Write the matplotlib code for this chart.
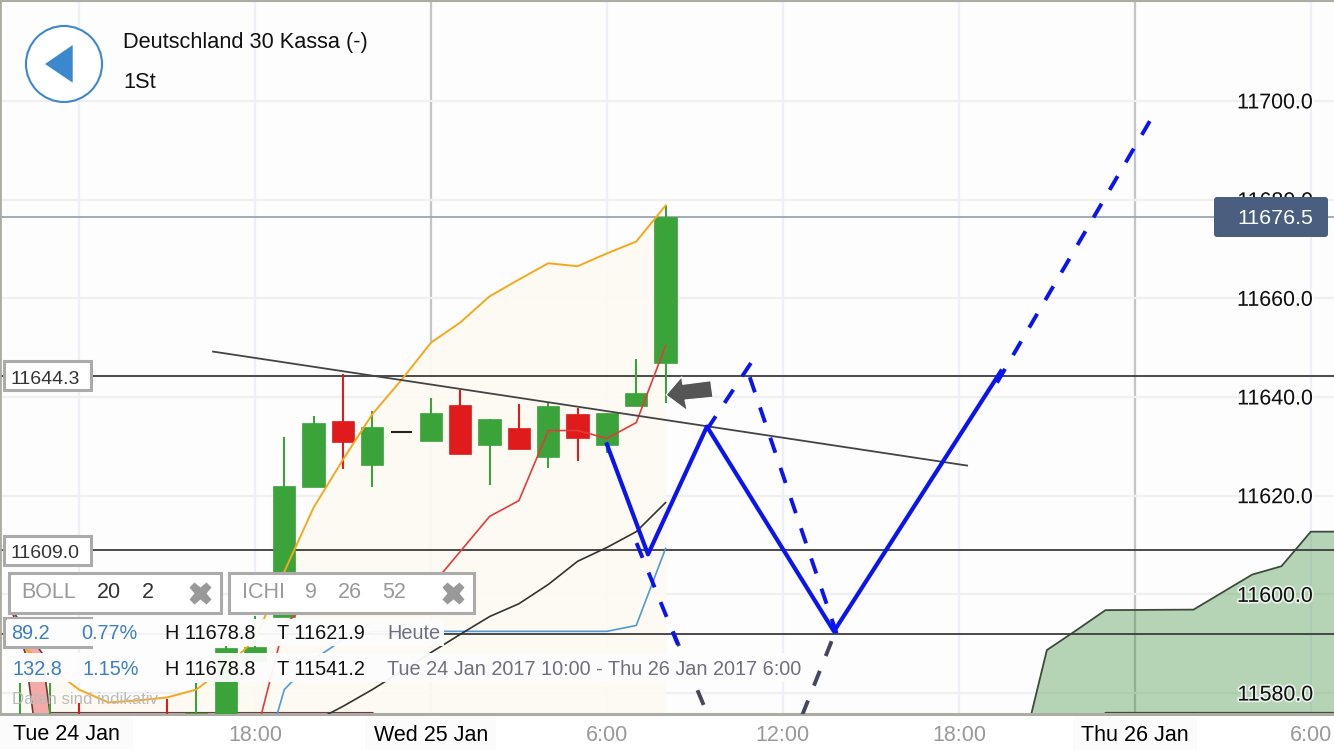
import matplotlib
matplotlib.use("Agg")
import matplotlib.pyplot as plt
import matplotlib.patheffects as pe
from matplotlib.patches import Rectangle, Circle, Polygon, FancyBboxPatch

plt.rcParams['font.family'] = ['Liberation Sans', 'DejaVu Sans']

# x values are hours counted from Tue 24 Jan 00:00
candle_hours = [10, 11, 12, 15, 16, 17, 18, 19, 20, 21, 22, 23, 24, 25, 26, 27, 28, 29, 30, 31, 32]
opens = [11570, 11570, 11572, 11572, 11570, 11570, 11586.4, 11595.5, 11621.7, 11635.1, 11626.2, 11632.9,
         11631.0, 11638.4, 11630.2, 11633.8, 11627.8, 11636.5, 11630.2, 11638.1, 11646.9]
highs = [11582, 11582, 11578, 11578.7, 11582.1, 11589.8, 11595.7, 11631.9, 11636.1, 11644.6, 11637.1, 11632.9,
         11639.8, 11641.4, 11635.5, 11638.6, 11638.8, 11637.8, 11636.8, 11647.6, 11679.0]
lows = [11570, 11570, 11570, 11570, 11570, 11570, 11586.4, 11595.5, 11621.7, 11625.4, 11621.7, 11632.9,
        11631.0, 11628.5, 11622.1, 11629.5, 11625.6, 11627.0, 11628.7, 11638.1, 11638.8]
closes = [11572, 11572, 11570, 11570, 11576, 11589.2, 11589.4, 11621.9, 11634.8, 11630.8, 11634.0, 11632.9,
          11636.8, 11628.5, 11635.5, 11629.5, 11638.1, 11631.7, 11636.8, 11640.9, 11676.5]

boll_hours = list(range(10, 33))
boll_upper = [11589.8, 11585.2, 11580.7, 11578.1, 11578.5, 11579.1, 11580.7, 11585.2, 11590.8, 11604.6, 11617.6,
              11627.3, 11636.5, 11643.5, 11651.0, 11655.1, 11660.4, 11663.8, 11667.1, 11666.5, 11669.1, 11671.5,
              11678.8]

ichi_hours = list(range(18, 33))
tenkan = [11570.6, 11593.9, 11599, 11599, 11599, 11599, 11601.6, 11608.7, 11615.8, 11619, 11633.2, 11633.2,
          11631.6, 11634.8, 11650.4]
kijun = [11560.4, 11580.7, 11586.8, 11590.8, 11592.5, 11592.5, 11592.5, 11592.5, 11592.5, 11592.5, 11592.5,
         11592.5, 11592.5, 11593.7, 11609.3]
lag_hours = list(range(20, 33))
chikou = [11574.2, 11577.3, 11580.7, 11584.4, 11588.2, 11591.9, 11595.5, 11598.1, 11602, 11606.7, 11609.5,
          11612.7, 11618.6]

red_cloud_hours = [9.7, 10.16, 10.43, 10.73, 11.01, 22.02, 22.77]
red_cloud_top = [11596.9, 11593.1, 11590.6, 11588.2, 11576, 11576, 11566.5]
red_cloud_bottom = [11596.9, 11588.2, 11576, 11566, 11560, 11560, 11560]

green_cloud_hours = [44, 45, 46, 47, 50, 52, 53, 54, 55]
green_cloud_top = [11564.3, 11588.7, 11592.7, 11596.8, 11596.9, 11604, 11605.7, 11612.7, 11612.7]
green_cloud_bottom = [11564.3, 11565, 11566, 11576, 11576, 11576, 11576, 11576, 11576]

levels = [11644.3, 11609.0, 11592.0]
last_price = 11676.5

trend_hours = [16.57, 42.28]
trend_values = [11649.2, 11626.1]

zigzag_hours = [30, 31.4, 33.41, 37.74, 43.43]
zigzag_values = [11630.4, 11608.1, 11634.0, 11592.5, 11645.2]

# hand drawn dashed scenarios: (hours, values)
blue_dashes = [([43.3, 48.51], [11642.9, 11695.9]),
               ([33.41, 34.99], [11633.4, 11647.6]),
               ([34.87, 37.83], [11644.0, 11592.1]),
               ([31.01, 32.42], [11610.4, 11589.8])]
navy_dashes = [([32.25, 33.45], [11592.5, 11575.4]),
               ([37.66, 36.65], [11590.5, 11575.4])]

price_ticks = [11580, 11600, 11620, 11640, 11660, 11680, 11700]
time_ticks = [12, 18, 24, 30, 36, 42, 48, 54]
time_labels = ['', '18:00', 'Wed 25 Jan', '6:00', '12:00', '18:00', 'Thu 26 Jan', '6:00']

GREEN = '#3aa33a'
RED = '#e01b1b'
GREY = '#ababab'
BLUE_TXT = '#3b7fc4'
ROW_TXT = '#6f6f80'

fig = plt.figure(figsize=(13.34, 7.5), dpi=100, facecolor='white')
ax = fig.add_axes([0, 36 / 750, 1, 713 / 750], facecolor='#fdfdfd', zorder=1)
ax.set_xlim(9.306, 54.79)
ax.set_ylim(11575.75, 11720.25)

ax.set_axisbelow(True)
ax.set_xticks(time_ticks)
ax.set_xticklabels(time_labels)
ax.set_yticks(price_ticks)
ax.tick_params(axis='y', length=0, labelleft=False)
ax.tick_params(axis='x', length=0, pad=8, labelsize=15.5)
ax.grid(True, axis='y', color='#f0f0f0', lw=1.6)
ax.grid(True, axis='x', color='#eef0f8', lw=1.6)
for line, lab, t in zip(ax.get_xgridlines(), ax.get_xticklabels(), time_ticks):
    if t in (24, 48):
        line.set_color('#c4c4c4')
        lab.set_color('black')
        lab.set_bbox(dict(facecolor='#fbfbfb', edgecolor='none', pad=6))
    else:
        lab.set_color('#999999')
for side in ['top', 'left', 'bottom']:
    ax.spines[side].set_color('#acaca4')
ax.spines['right'].set_visible(False)
ax.spines['bottom'].set_linewidth(2.2)
ax.spines['left'].set_linewidth(2)
ax.spines['top'].set_linewidth(1.5)

# bollinger area and clouds
ax.fill_between(boll_hours, boll_upper, 11560, color='#fdfaf3', alpha=0.95, lw=0, zorder=1)
ax.fill_between(red_cloud_hours, red_cloud_top, red_cloud_bottom, color='#f5a9a9', lw=0, zorder=1.1)
ax.plot(red_cloud_hours, red_cloud_top, color='#6b3b3b', lw=1.2, zorder=1.2)
ax.plot(red_cloud_hours, red_cloud_bottom, color='#6b3b3b', lw=1.2, zorder=1.2)
ax.fill_between(green_cloud_hours, green_cloud_top, green_cloud_bottom, color='#3a8f3a', alpha=0.37, lw=0, zorder=1.1)
ax.plot(green_cloud_hours, green_cloud_top, color='#3b4a3b', lw=1.3, zorder=1.2)
ax.plot(green_cloud_hours, green_cloud_bottom, color='#3b4a3b', lw=1.3, zorder=1.2)

# levels, price line, trend
for lv in levels:
    ax.axhline(lv, color='#3c3c3c', lw=1.3, zorder=2)
ax.axhline(last_price, color='#9aa6b5', lw=1.3, zorder=2)

# candles
for h, o, hi, lo, c in zip(candle_hours, opens, highs, lows, closes):
    col = GREEN if c > o else RED
    if c == o:
        ax.bar(h, 0, width=0.7, bottom=o, edgecolor='#222222', lw=1.5, zorder=3)
        continue
    ax.vlines(h, lo, hi, color=col, lw=1.5, zorder=2.8)
    ax.bar(h, c - o, width=0.76, bottom=o, color=col, edgecolor=col, lw=0.5, zorder=3)

# indicators
ax.plot(boll_hours, boll_upper, color='#f5a81c', lw=1.4, zorder=4)
ax.plot(ichi_hours, kijun, color='#4f9ad8', lw=1.2, zorder=4)
ax.plot(lag_hours, chikou, color='#333333', lw=1.2, zorder=4)
ax.plot(ichi_hours, tenkan, color='#e33b3b', lw=1.2, zorder=4)

ax.plot(trend_hours, trend_values, color='#444444', lw=1.3, zorder=5)

# drawn scenario
for hrs, vals in navy_dashes:
    ax.plot(hrs, vals, color='#45475f', lw=2.8, linestyle=(0, (4.1, 4.1)), zorder=5)
for hrs, vals in blue_dashes:
    ax.plot(hrs, vals, color='#0a14f0', lw=2.8, linestyle=(0, (4.1, 4.1)), zorder=5.5)
ax.plot(zigzag_hours, zigzag_values, color='#0a14f0', lw=3, zorder=6)

# price labels sit on top of the clouds
ax2 = ax.twinx()
ax2.set_zorder(2)
ax2.patch.set_visible(False)
ax2.set_ylim(ax.get_ylim())
ax2.set_yticks(price_ticks)
ax2.set_yticklabels(['%.1f' % p for p in price_ticks], ha='right', color='#111111', fontsize=15.4,
                    path_effects=[pe.withStroke(linewidth=2.5, foreground='white', alpha=0.7)])
ax2.tick_params(axis='y', length=0, pad=-15.1)
for s in ax2.spines.values():
    s.set_visible(False)

# ui chrome in pixel coordinates
ui = fig.add_axes([0, 0, 1, 1], zorder=3)
ui.set_xlim(0, 1334)
ui.set_ylim(750, 0)
ui.axis('off')


def box(x0, y0, x1, y1, fc='white', ec='none', lw=0, alpha=None, z=1):
    ui.add_patch(Rectangle((x0, y0), x1 - x0, y1 - y0, facecolor=fc, edgecolor=ec, lw=lw, alpha=alpha, zorder=z))


def txt(x, y, s, color='#111111', size=14.3, ha='left'):
    ui.text(x, y, s, color=color, fontsize=size, ha=ha, va='center', zorder=6)


# header
ui.add_patch(Circle((64, 64), 38, facecolor='white', edgecolor='#3b88d0', lw=1.5, zorder=3))
ui.add_patch(Polygon([(45, 64), (72.7, 45), (72.7, 82.7)], facecolor='#3b88cf', edgecolor='none', zorder=4))
txt(123, 42.5, 'Deutschland 30 Kassa (-)', size=15.7)
txt(123, 82.5, '1St', size=15.7)

# sticky date
box(0, 716, 133, 749, fc='#fbfbfb')
txt(66, 734, 'Tue 24 Jan', color='black', size=15.5, ha='center')

# level labels
box(4, 361, 91, 390, ec=GREY, lw=2.2, z=2)
txt(11, 379, '11644.3', color='#333333', size=14)
box(4, 536, 91, 565, ec=GREY, lw=2.2, z=2)
txt(11, 554, '11609.0', color='#333333', size=14)
box(4, 618, 91, 647, ec=GREY, lw=2.2, z=2)

# indicator boxes
box(9, 573, 221, 613, ec=GREY, lw=2.2, z=3)
txt(21, 592.5, 'BOLL', color='#999999', size=15.5)
txt(97, 592.5, '20', color='#333333', size=15.5)
txt(142, 592.5, '2', color='#333333', size=15.5)
ui.plot(200, 593, marker='X', ms=16, color='#999999', mec='none', zorder=6)
box(229, 573, 474, 613, ec=GREY, lw=2.2, z=3)
txt(242, 592.5, 'ICHI', color='#999999', size=15.5)
txt(305, 592.5, '9', color='#999999', size=15.5)
txt(338, 592.5, '26', color='#999999', size=15.5)
txt(382, 592.5, '52', color='#999999', size=15.5)
ui.plot(453, 593, marker='X', ms=16, color='#999999', mec='none', zorder=6)

# info rows
box(7, 619, 444, 646, fc='#fdfdfd', alpha=0.95, z=3)
box(7, 653, 812, 682, fc='#fdfdfd', alpha=0.95, z=3)
txt(11, 633.5, '89.2', color=BLUE_TXT)
txt(81, 633.5, '0.77%', color=BLUE_TXT)
txt(165, 633.5, 'H 11678.8')
txt(277, 633.5, 'T 11621.9')
txt(387, 633.5, 'Heute', color=ROW_TXT)
txt(12, 669.5, '132.8', color=BLUE_TXT)
txt(82, 669.5, '1.15%', color=BLUE_TXT)
txt(165, 669.5, 'H 11678.8')
txt(277, 669.5, 'T 11541.2')
txt(387, 669.5, 'Tue 24 Jan 2017 10:00 - Thu 26 Jan 2017 6:00', color=ROW_TXT)
txt(12, 700, 'Daten sind indikativ', color='#bbbbbb', size=12.1)

# last price tag
ui.add_patch(FancyBboxPatch((1217, 200), 108, 34, boxstyle='round,pad=3', facecolor='#4a5f80', edgecolor='none', zorder=3))
txt(1313, 218, '11676.5', color='white', size=15.4, ha='right')

# arrow
ui.add_patch(Polygon([(666, 395), (681.7, 376.7), (682.7, 384.3), (710.7, 380.7), (713, 397.3), (685, 400), (687.3, 410.7)],
                     facecolor='#555555', edgecolor='white', lw=0.8, zorder=3))

fig.savefig('out.png', dpi=100)
